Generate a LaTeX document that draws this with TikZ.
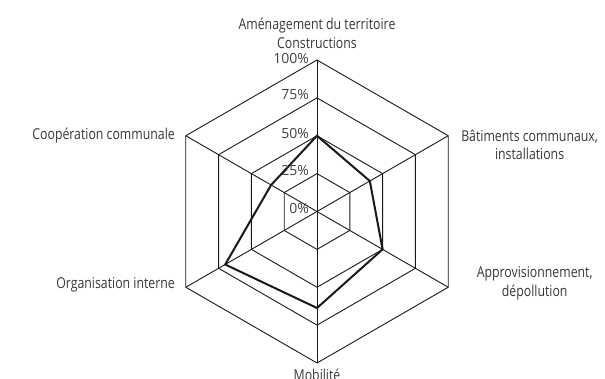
\documentclass[tikz,border=0pt]{standalone}
\usepackage{fontspec}
\setmainfont{Open Sans}[FakeStretch=0.82]
\newfontfamily\pctfont{Open Sans}
\begin{document}
\begin{tikzpicture}[x=1pt,y=1pt,
  gridline/.style={draw=black!90, line width=0.9pt, line join=miter},
  dataline/.style={draw=black!90, line width=2pt, line join=miter},
  lbl/.style={inner sep=0pt, text=black!78, font=\fontsize{15}{18.5}\selectfont, align=center},
  pct/.style={inner sep=0pt, text=black!75, font=\pctfont\fontsize{14}{16}\selectfont, anchor=east}]
\useasboundingbox (0,0) rectangle (605,-379);
\begin{scope}[shift={(317,-211.5)}]
  \foreach \r in {37.875,75.75,113.625,151.5}
    \draw[gridline] (90:\r) -- (30:\r) -- (-30:\r) -- (-90:\r) -- (-150:\r) -- (150:\r) -- cycle;
  \coordinate (O) at (0,0);
  \coordinate (vA) at (90:151.5);
  \coordinate (vB) at (30:151.5);
  \coordinate (vC) at (-30:151.5);
  \coordinate (vD) at (-90:151.5);
  \coordinate (vE) at (-150:151.5);
  \coordinate (vF) at (150:151.5);
  \foreach \v in {vA,vB,vC,vD,vE,vF}
    \draw[gridline] (O) -- (\v);
  \coordinate (dA) at (90:75.75);
  \coordinate (dB) at (30:61);
  \coordinate (dC) at (-30:75.75);
  \coordinate (dD) at (-90:96.5);
  \coordinate (dE) at (-150:106);
  \coordinate (dF) at (150:53);
  \draw[dataline] (dA) -- (dB) -- (dC) -- (dD) -- (dE) -- (dF) -- cycle;
  \node[pct] (p100) at (-8,152.8) {100\%};
  \node[pct] (p75) at (-8,116.6) {75\%};
  \node[pct] (p50) at (-8,78.5) {50\%};
  \node[pct] (p25) at (-8,40.6) {25\%};
  \node[pct] (p0) at (-8,3.5) {0\%};
\end{scope}
\node[lbl] (tA) at (317,-33.5) {Aménagement du territoire\\Constructions};
\node[lbl] (tB) at (529.6,-145) {Bâtiments communaux,\\installations};
\node[lbl] (tC) at (534.7,-283.5) {Approvisionnement,\\dépollution};
\node[lbl, anchor=north] (tD) at (317,-368.5) {Mobilité};
\node[lbl, anchor=east] (tE) at (175,-285) {Organisation interne};
\node[lbl, anchor=east] (tF) at (175,-135.7) {Coopération communale};
\end{tikzpicture}
\end{document}
